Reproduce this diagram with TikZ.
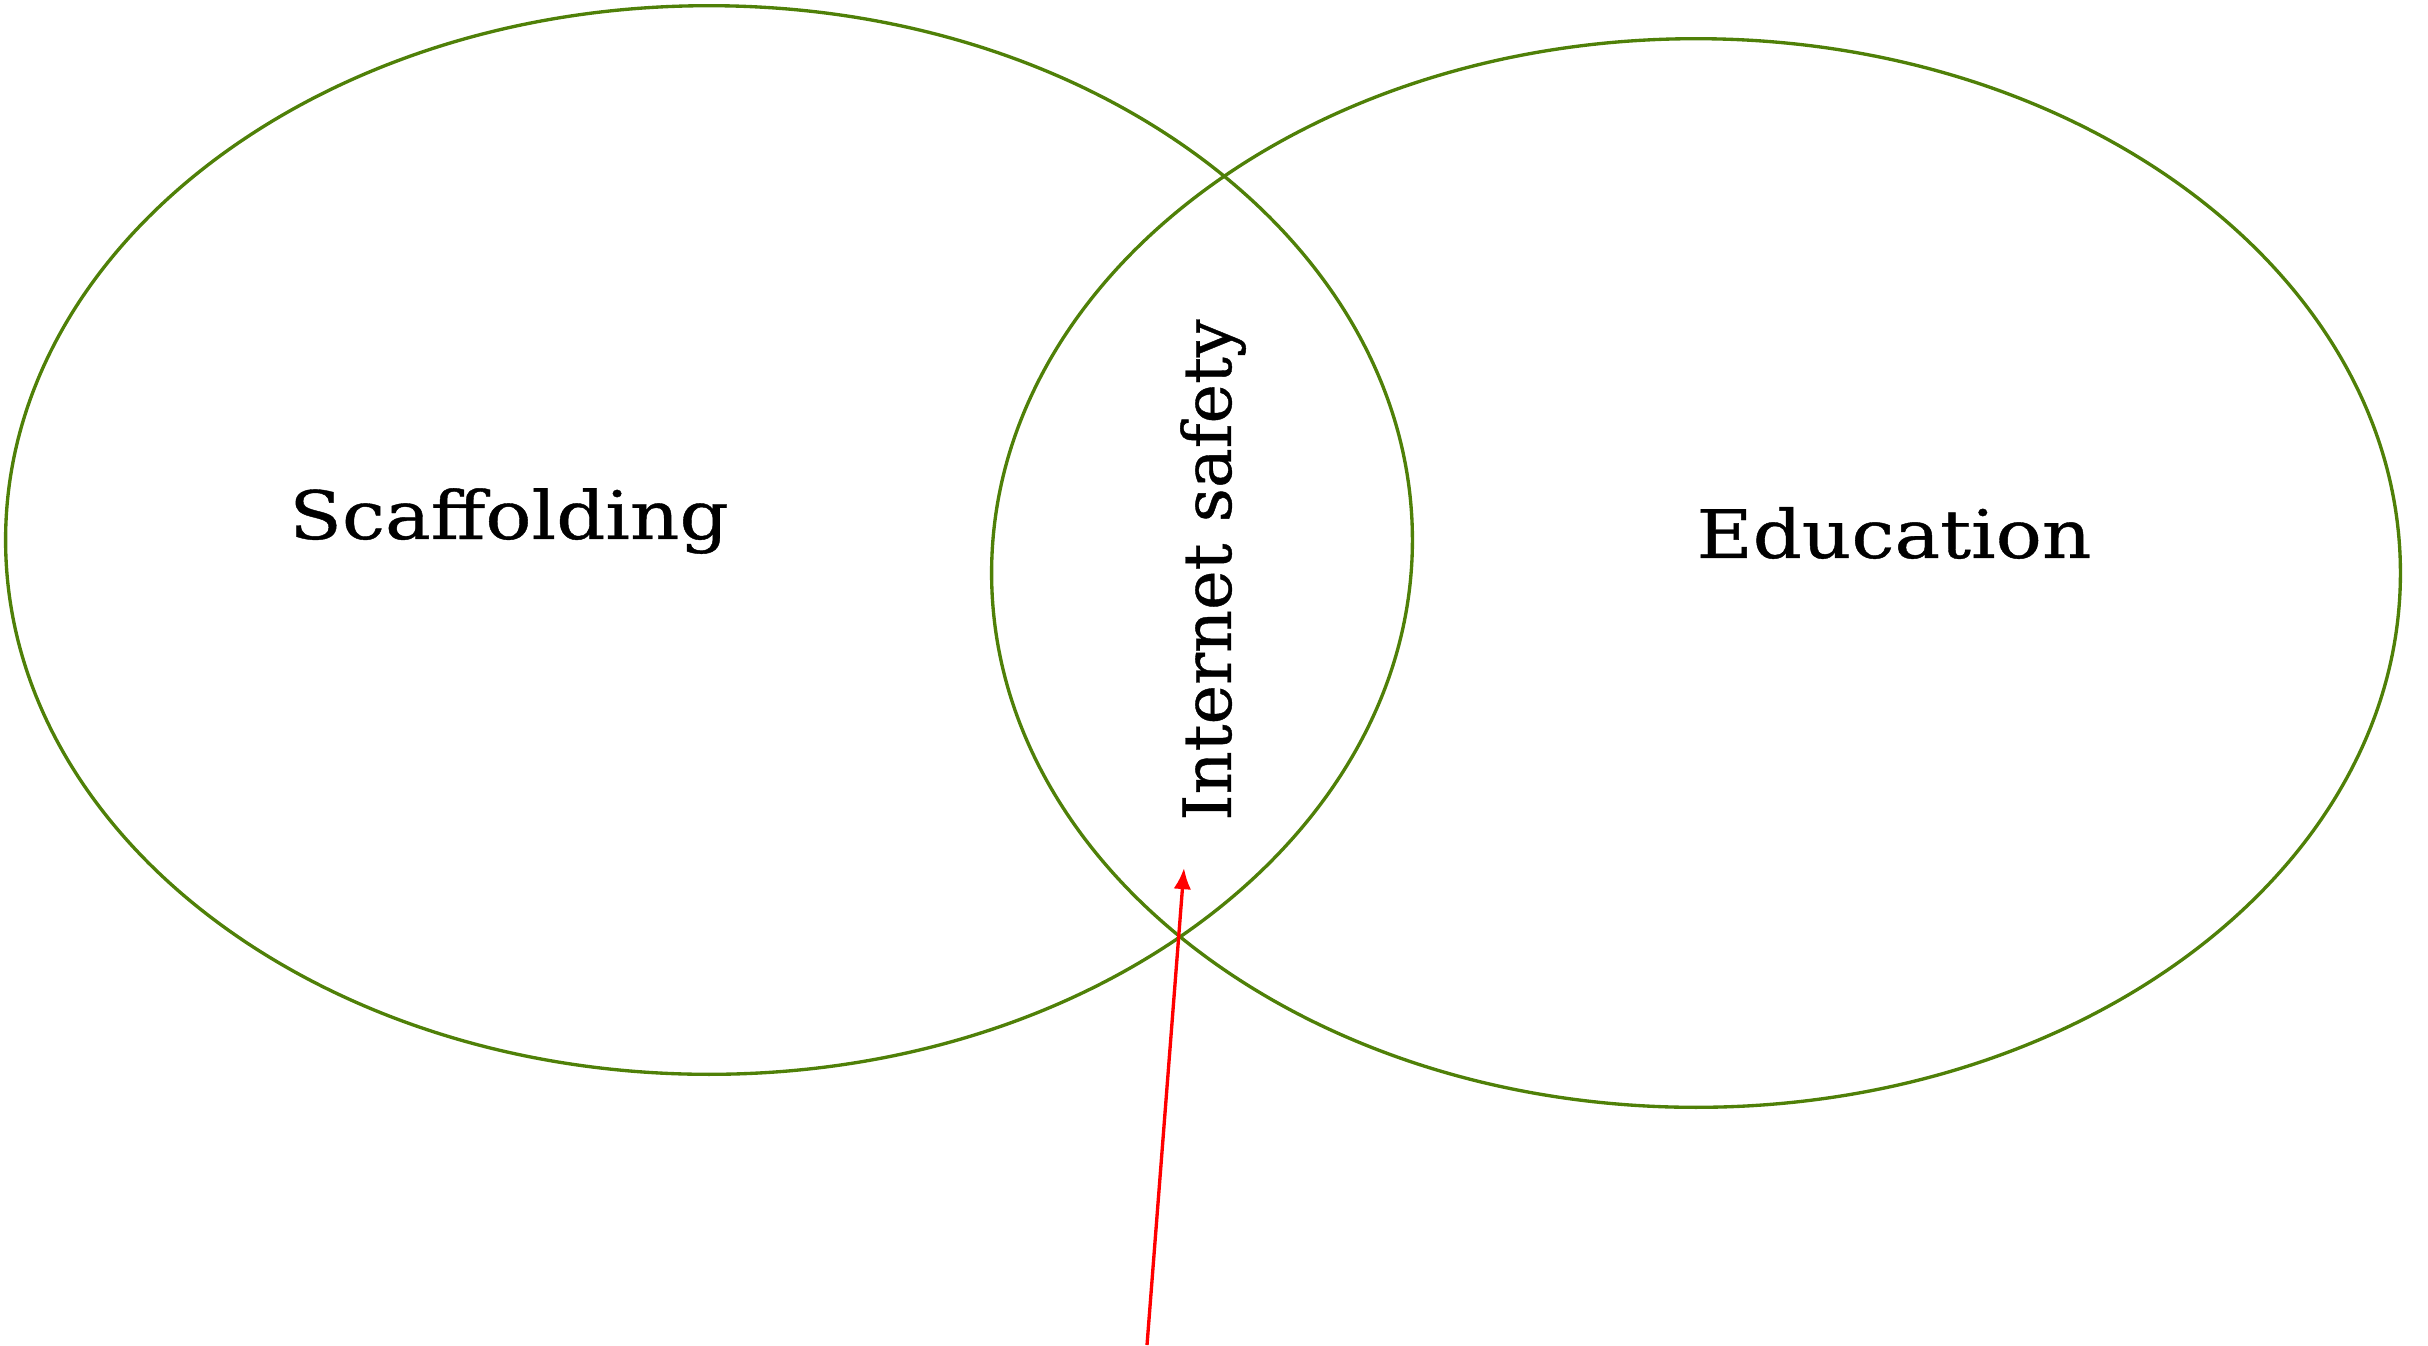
\documentclass[tikz,border=0pt]{standalone}
\usepackage{fontspec}
\setmainfont{DejaVu Serif}[FakeBold=0.6]
\newfontfamily\widelab{DejaVu Serif}[FakeStretch=1.15, FakeBold=0.6]
\usetikzlibrary{shapes.geometric,arrows.meta}

\definecolor{setgreen}{RGB}{79,128,8}

\begin{document}
\begin{tikzpicture}[x=0.01cm, y=-0.01cm,
    set/.style={ellipse, draw=setgreen, line width=0.95pt,
      minimum width=14.06cm, minimum height=10.68cm, inner sep=0pt},
    setlabel/.style={font=\widelab\fontsize{19}{23}\selectfont, inner sep=0pt},
    pointer/.style={draw=red, line width=0.95pt, -{Latex[length=6pt, width=5pt]}}]
  \useasboundingbox (0,0) rectangle (2428,1345);
  % the two sets
  \node[set] (scaf) at (709,540) {};
  \node[set, minimum width=14.08cm] (edu) at (1696,573) {};
  % labels
  \node[setlabel] (scaflab) at (509,521) {Scaffolding};
  \node[setlabel] (edulab) at (1894,533) {Education};
  \node[font=\fontsize{19}{23}\selectfont, inner sep=0pt, rotate=90]
    (overlap) at (1213,570) {Internet safety};
  % arrow up into the overlap
  \coordinate (from) at (1147,1345);
  \coordinate (tip) at (1184,868);
  \draw[pointer] (from) -- (tip);
\end{tikzpicture}
\end{document}
